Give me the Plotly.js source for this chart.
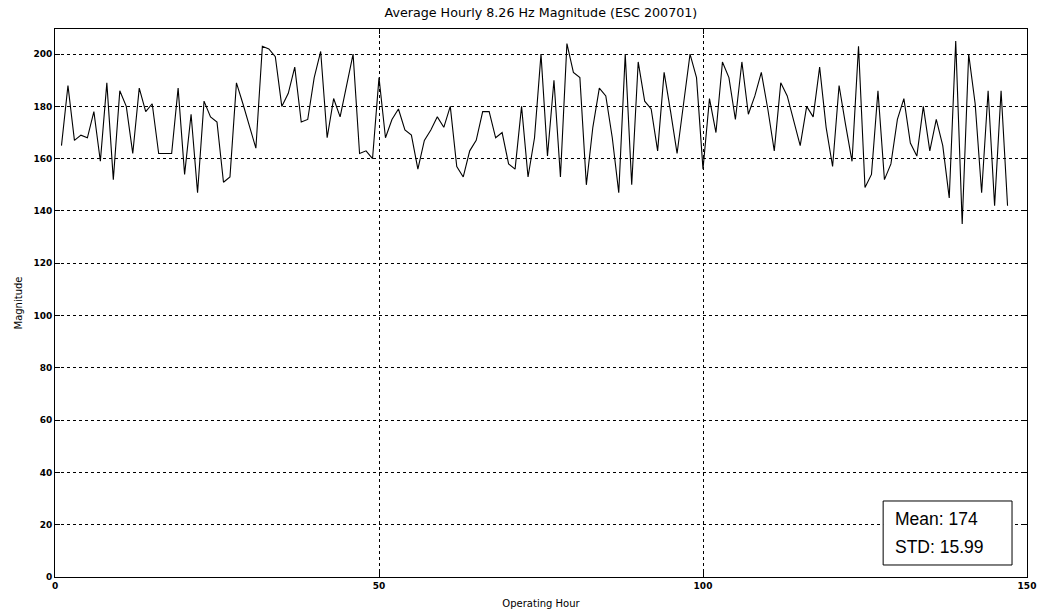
<!DOCTYPE html>
<html>
<head>
<meta charset="utf-8">
<script src="https://cdn.plot.ly/plotly-3.0.1.min.js"></script>
<style>
  html, body { margin: 0; padding: 0; background: #fff; }
  #chart { width: 1037px; height: 614px; }
</style>
</head>
<body>
<div id="chart"></div>
<script>
// Operating hours and the hourly average magnitude at 8.26 Hz
const hours = Array.from({length: 147}, (_, i) => i + 1);
const magnitude = [
  165, 188, 167, 169, 168, 178, 159, 189, 152, 186,
  180, 162, 187, 178, 181, 162, 162, 162, 187, 154,
  177, 147, 182, 176, 174, 151, 153, 189, 181, 172,
  164, 203, 202, 199, 180, 185, 195, 174, 175, 191,
  201, 168, 183, 176, 188, 200, 162, 163, 160, 191,
  168, 175, 179, 171, 169, 156, 167, 171, 176, 172,
  180, 157, 153, 163, 167, 178, 178, 168, 170, 158,
  156, 180, 153, 168, 200, 161, 190, 153, 204, 193,
  191, 150, 172, 187, 184, 168, 147, 200, 150, 197,
  182, 179, 163, 193, 178, 162, 181, 200, 191, 156,
  183, 170, 197, 191, 175, 197, 177, 184, 193, 179,
  163, 189, 184, 175, 165, 180, 176, 195, 172, 157,
  188, 173, 159, 203, 149, 154, 186, 152, 158, 175,
  183, 166, 161, 180, 163, 175, 165, 145, 205, 135,
  200, 181, 147, 186, 142, 186, 142
];
const xTicks = [0, 50, 100, 150];
const yTicks = [0, 20, 40, 60, 80, 100, 120, 140, 160, 180, 200];
const statLines = ['Mean: 174', 'STD: 15.99'];

const labelFont = 'DejaVu Sans, Verdana, sans-serif';

const axisCommon = {
  showline: true, linecolor: '#000', linewidth: 1, mirror: 'ticks',
  ticks: 'inside', ticklen: 5, tickcolor: '#000', tickwidth: 1,
  showgrid: true, gridcolor: '#000', gridwidth: 1, griddash: 'dot',
  zeroline: false,
  tickfont: {family: labelFont, size: 9, weight: 'bold', color: '#000'}
};

const trace = {
  x: hours, y: magnitude, type: 'scatter', mode: 'lines',
  line: {color: '#000', width: 1.1}, hoverinfo: 'x+y'
};

const layout = {
  width: 1037, height: 614,
  margin: {l: 55, r: 10, t: 29, b: 37},
  paper_bgcolor: '#fff', plot_bgcolor: '#fff',
  showlegend: false,
  title: {
    text: 'Average Hourly 8.26 Hz Magnitude (ESC 200701)',
    font: {family: labelFont, size: 12.7, color: '#000'},
    x: 0.5216, xanchor: 'center', y: 0.986, yanchor: 'top'
  },
  xaxis: Object.assign({}, axisCommon, {
    range: [0, 150], tickvals: xTicks, ticktext: xTicks.map(String),
    title: {text: 'Operating Hour', standoff: 10,
      font: {family: labelFont, size: 10, color: '#000'}}
  }),
  yaxis: Object.assign({}, axisCommon, {
    range: [0, 209.6], tickvals: yTicks, ticktext: yTicks.map(String),
    title: {text: 'Magnitude', standoff: 8,
      font: {family: labelFont, size: 10, color: '#000'}}
  }),
  shapes: [{
    type: 'rect', xref: 'paper', yref: 'paper',
    x0: 0.852, x1: 0.9846, y0: 0.0219, y1: 0.1387,
    line: {color: '#000', width: 1}, fillcolor: '#fff', layer: 'above'
  }],
  annotations: statLines.map((t, i) => ({
    text: t, xref: 'paper', yref: 'paper',
    x: 0.8625, xanchor: 'left', y: i === 0 ? 0.1058 : 0.0547, yanchor: 'middle',
    showarrow: false,
    font: {family: 'Liberation Sans, Arial, sans-serif', size: 17.5, color: '#000'}
  }))
};

Plotly.newPlot('chart', [trace], layout, {displayModeBar: false, staticPlot: true});
</script>
</body>
</html>
